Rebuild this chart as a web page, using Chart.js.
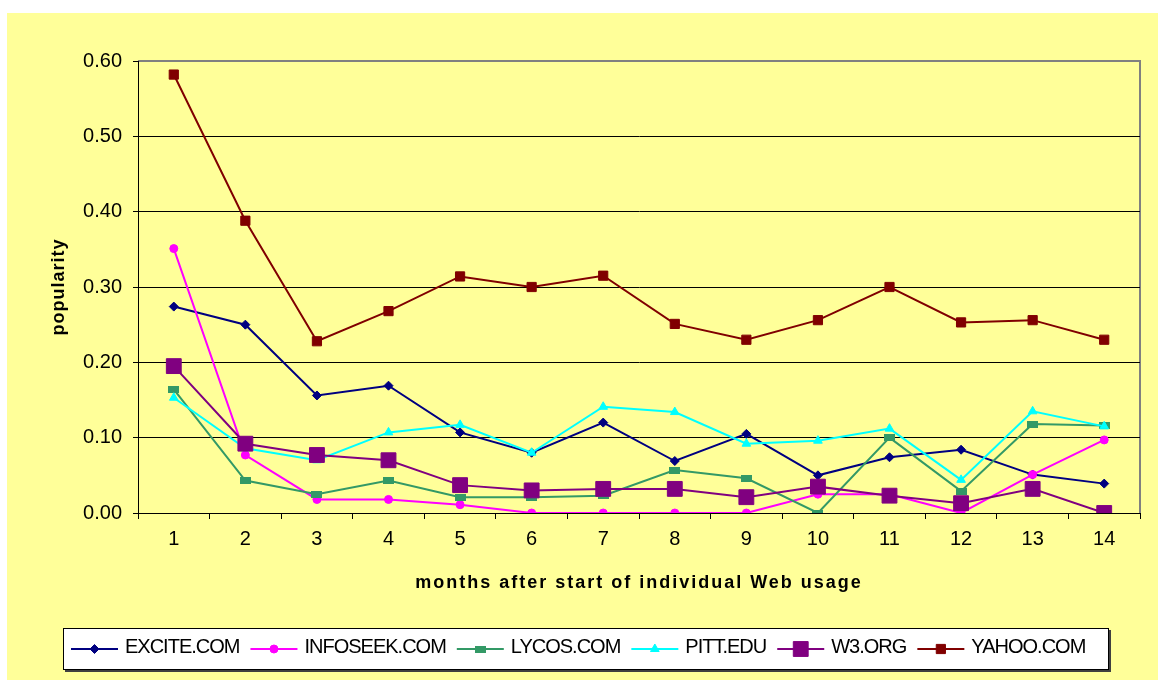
<!DOCTYPE html>
<html>
<head>
<meta charset="utf-8">
<script src="https://cdn.jsdelivr.net/npm/chart.js@4.4.1/dist/chart.umd.min.js"></script>
<style>
  body { margin: 0; background: #fff; }
  #wrap { position: absolute; left: 0; top: 0; width: 1158px; height: 680px; }
</style>
</head>
<body>
<div id="wrap"><canvas id="chart" width="1158" height="680"></canvas></div>
<script>
const months = ['1', '2', '3', '4', '5', '6', '7', '8', '9', '10', '11', '12', '13', '14'];
const excite   = [0.274, 0.250, 0.156, 0.169, 0.107, 0.080, 0.120, 0.069, 0.105, 0.050, 0.074, 0.084, 0.051, 0.039];
const infoseek = [0.351, 0.077, 0.018, 0.018, 0.011, 0.000, 0.000, 0.000, 0.000, 0.025, 0.025, 0.000, 0.051, 0.097];
const lycos    = [0.164, 0.043, 0.025, 0.043, 0.021, 0.021, 0.023, 0.057, 0.046, 0.000, 0.100, 0.029, 0.118, 0.116];
const pitt     = [0.153, 0.086, 0.070, 0.107, 0.117, 0.080, 0.141, 0.134, 0.092, 0.096, 0.112, 0.044, 0.135, 0.115];
const w3       = [0.195, 0.092, 0.077, 0.070, 0.037, 0.030, 0.032, 0.032, 0.021, 0.035, 0.023, 0.013, 0.032, 0.000];
const yahoo    = [0.582, 0.388, 0.228, 0.268, 0.314, 0.300, 0.315, 0.251, 0.230, 0.256, 0.300, 0.253, 0.256, 0.230];

const FONT = "Arial, 'Liberation Sans', sans-serif";

// small flat rectangle used as the LYCOS marker
function rectMarker(w, h, color) {
    let c = document.createElement('canvas');
    c.width = w;
    c.height = h;
    let g = c.getContext('2d');
    g.fillStyle = color;
    g.fillRect(0, 0, w, h);
    return c;
}

function series(label, data, color, style, radius, idx) {
    return {
        label: label,
        data: data,
        borderColor: color,
        backgroundColor: color,
        pointBackgroundColor: color,
        pointBorderColor: color,
        pointBorderWidth: 1,
        pointStyle: style,
        pointRadius: radius,
        borderWidth: 2,
        tension: 0,
        fill: false,
        order: -idx
    };
}

const backdrop = {
    id: 'backdrop',
    beforeDraw(chart) {
        const ctx = chart.ctx;
        const a = chart.chartArea;
        ctx.save();
        ctx.fillStyle = '#FFFF99';
        ctx.fillRect(7, 13, chart.width - 7, chart.height - 13);
        ctx.strokeStyle = '#808080';
        ctx.lineWidth = 2;
        ctx.beginPath();
        ctx.moveTo(a.left, a.top);
        ctx.lineTo(a.right, a.top);
        ctx.lineTo(a.right, a.bottom);
        ctx.stroke();
        ctx.restore();
        // the axis titles are spaced out like the original
        Object.values(chart.scales).forEach(s => {
            if (s._spaced) return;
            const orig = s.drawTitle;
            const sp = s.axis === 'x' ? '2px' : '1px';
            s.drawTitle = function () {
                const prev = this.ctx.letterSpacing;
                this.ctx.letterSpacing = sp;
                orig.apply(this, arguments);
                this.ctx.letterSpacing = prev;
            };
            s._spaced = true;
        });
    }
};

const lineLegend = {
    id: 'lineLegend',
    afterDraw(chart) {
        const ctx = chart.ctx;
        const L = 63, T = 628, W = 1046, H = 42;
        ctx.save();
        ctx.fillStyle = '#404040';
        ctx.fillRect(L + 2, T + 2, W, H);
        ctx.fillStyle = '#fff';
        ctx.fillRect(L, T, W, H);
        ctx.strokeStyle = '#000';
        ctx.lineWidth = 1;
        ctx.strokeRect(L + 0.5, T + 0.5, W - 1, H - 1);

        ctx.font = '20px ' + FONT;
        ctx.letterSpacing = '-1px';
        ctx.textBaseline = 'middle';
        let x = 71;
        const y = 649;
        chart.data.datasets.forEach(ds => {
            ctx.strokeStyle = ds.borderColor;
            ctx.lineWidth = 2;
            ctx.beginPath();
            ctx.moveTo(x, y);
            ctx.lineTo(x + 47, y);
            ctx.stroke();
            ctx.fillStyle = ds.pointBackgroundColor;
            ctx.strokeStyle = ds.pointBorderColor;
            ctx.lineWidth = 1;
            Chart.helpers.drawPoint(ctx, {
                pointStyle: ds.pointStyle,
                radius: ds.pointRadius,
                borderWidth: 1,
                rotation: 0
            }, x + 23.5, y);
            ctx.fillStyle = '#000';
            ctx.fillText(ds.label, x + 54, y - 2);
            x += 54 + ctx.measureText(ds.label).width + 11;
        });
        ctx.restore();
    }
};

new Chart(document.getElementById('chart'), {
    type: 'line',
    data: {
        labels: months,
        datasets: [
            series('EXCITE.COM', excite, '#000080', 'rectRot', 4.5, 0),
            series('INFOSEEK.COM', infoseek, '#FF00FF', 'circle', 4, 1),
            series('LYCOS.COM', lycos, '#339966', rectMarker(11, 7, '#339966'), 5, 2),
            series('PITT.EDU', pitt, '#00FFFF', 'triangle', 5, 3),
            series('W3.ORG', w3, '#800080', 'rect', 10.5, 4),
            series('YAHOO.COM', yahoo, '#800000', 'rect', 6.5, 5)
        ]
    },
    options: {
        responsive: false,
        animation: false,
        devicePixelRatio: 1,
        layout: { padding: { left: 8, top: 61, right: 18, bottom: 86 } },
        plugins: {
            legend: { display: false },
            tooltip: { enabled: false }
        },
        scales: {
            x: {
                offset: true,
                grid: { display: true, offset: true, drawOnChartArea: false, drawTicks: true, tickLength: 6, color: '#000' },
                border: { color: '#000', width: 1 },
                ticks: { color: '#000', font: { family: FONT, size: 20 }, padding: 8, maxRotation: 0, autoSkip: false },
                title: {
                    display: true,
                    text: 'months after start of individual Web usage',
                    color: '#000',
                    font: { family: FONT, size: 18, weight: 'bold' },
                    padding: { top: 0, bottom: 0 }
                },
                afterFit(scale) { scale.height = 81; }
            },
            y: {
                min: 0,
                max: 0.6,
                ticks: {
                    stepSize: 0.1,
                    callback: v => v.toFixed(2),
                    color: '#000',
                    font: { family: FONT, size: 20 },
                    padding: 11
                },
                grid: {
                    color: c => Math.abs(c.tick.value - 0.6) < 1e-6 ? '#808080' : '#000',
                    tickColor: '#000',
                    tickLength: 5,
                    lineWidth: 1
                },
                border: { color: '#000', width: 1 },
                title: {
                    display: true,
                    text: 'popularity',
                    color: '#000',
                    font: { family: FONT, size: 18, weight: 'bold' },
                    padding: { top: 40, bottom: 0 }
                },
                afterFit(scale) { scale.width = 130; }
            }
        }
    },
    plugins: [backdrop, lineLegend]
});
</script>
</body>
</html>
